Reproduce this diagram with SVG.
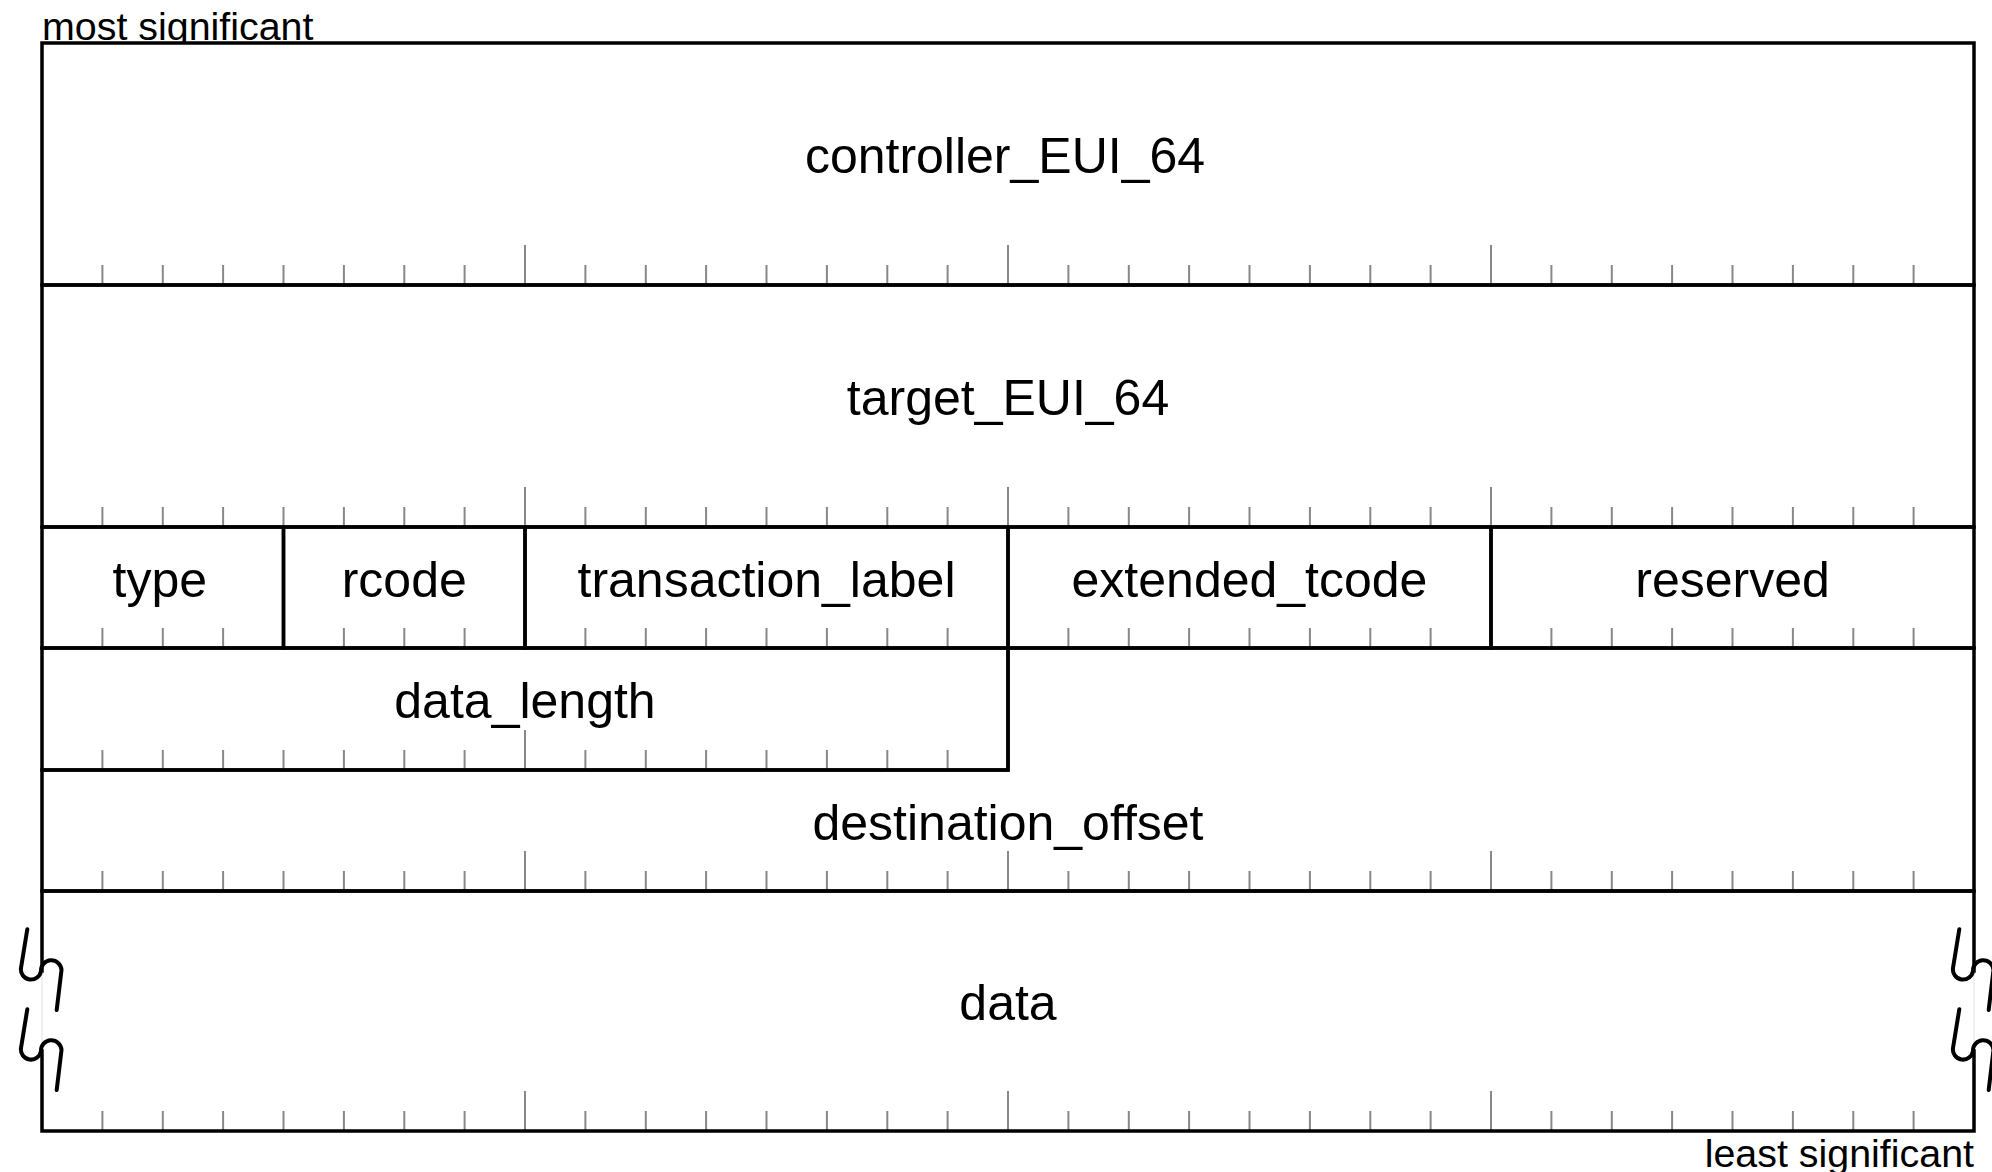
<svg xmlns="http://www.w3.org/2000/svg" xmlns:xlink="http://www.w3.org/1999/xlink" width="1992" height="1172" viewBox="0 0 1992 1172">
  <style>
    .edge { fill: none; stroke: #000; stroke-width: 3.5; stroke-linejoin: miter; stroke-linecap: square; }
    .tick { fill: none; stroke: #888; stroke-width: 2; }
    .brk { fill: none; stroke: #000; stroke-width: 4; stroke-linecap: round; stroke-linejoin: round; }
    .ghost { fill: none; stroke: #e2e2e2; stroke-width: 1; }
    .lbl { font-family: "Liberation Sans", Arial, sans-serif; font-size: 50px; fill: #000; text-anchor: middle; }
    .note { font-family: "Liberation Sans", Arial, sans-serif; font-size: 39.4px; fill: #000; }
  </style>
  <defs>
    <!-- bit ruler across all 32 bits; ticks rise from y=0, byte boundaries longer -->
    <path id="ruler-full" class="tick" d="M102.4,0v-20 M162.8,0v-20 M223.1,0v-20 M283.5,0v-20 M343.9,0v-20 M404.3,0v-20 M464.6,0v-20 M525,0v-40 M585.4,0v-20 M645.8,0v-20 M706.1,0v-20 M766.5,0v-20 M826.9,0v-20 M887.3,0v-20 M947.6,0v-20 M1008,0v-40 M1068.4,0v-20 M1128.8,0v-20 M1189.1,0v-20 M1249.5,0v-20 M1309.9,0v-20 M1370.3,0v-20 M1430.6,0v-20 M1491,0v-40 M1551.4,0v-20 M1611.8,0v-20 M1672.1,0v-20 M1732.5,0v-20 M1792.9,0v-20 M1853.3,0v-20 M1913.6,0v-20"/>
    <!-- ruler for the split quadlet: no ticks where field edges fall -->
    <path id="ruler-split" class="tick" d="M102.4,0v-20 M162.8,0v-20 M223.1,0v-20 M343.9,0v-20 M404.3,0v-20 M464.6,0v-20 M585.4,0v-20 M645.8,0v-20 M706.1,0v-20 M766.5,0v-20 M826.9,0v-20 M887.3,0v-20 M947.6,0v-20 M1068.4,0v-20 M1128.8,0v-20 M1189.1,0v-20 M1249.5,0v-20 M1309.9,0v-20 M1370.3,0v-20 M1430.6,0v-20 M1551.4,0v-20 M1611.8,0v-20 M1672.1,0v-20 M1732.5,0v-20 M1792.9,0v-20 M1853.3,0v-20 M1913.6,0v-20"/>
    <!-- ruler for the upper 16 bits only -->
    <path id="ruler-half" class="tick" d="M102.4,0v-20 M162.8,0v-20 M223.1,0v-20 M283.5,0v-20 M343.9,0v-20 M404.3,0v-20 M464.6,0v-20 M525,0v-40 M585.4,0v-20 M645.8,0v-20 M706.1,0v-20 M766.5,0v-20 M826.9,0v-20 M887.3,0v-20 M947.6,0v-20"/>
    <!-- pair of break marks, drawn around x=0 -->
    <path id="break-pair" class="brk" d="M-14.7,929.3 L-21,968 A10,10 0 0 0 -1,971 A10,10 0 0 1 19.5,970 L14.7,1010 M-14.7,1009.3 L-21,1048 A10,10 0 0 0 -1,1051 A10,10 0 0 1 19.5,1050 L14.7,1090"/>
  </defs>

  <rect x="0" y="0" width="1992" height="1172" fill="#fff"/>

  <text class="note" x="42" y="39.5">most significant</text>
  <text class="note" x="1974" y="1167" text-anchor="end">least significant</text>

  <!-- packet body -->
  <rect x="42" y="43" width="1932" height="1088" fill="#fff"/>

  <g id="controller_EUI_64">
    <use xlink:href="#ruler-full" y="285"/>
    <rect class="edge" x="42" y="43" width="1932" height="242"/>
    <text class="lbl" x="1005" y="173">controller_EUI_64</text>
  </g>

  <g id="target_EUI_64">
    <use xlink:href="#ruler-full" y="527"/>
    <rect class="edge" x="42" y="285" width="1932" height="242"/>
    <text class="lbl" x="1008" y="415">target_EUI_64</text>
  </g>

  <g id="type">
    <use xlink:href="#ruler-split" y="648"/>
    <rect class="edge" x="42" y="527" width="241.5" height="121"/>
    <text class="lbl" x="159.75" y="596.5">type</text>
  </g>

  <g id="rcode">
    <rect class="edge" x="283.5" y="527" width="241.5" height="121"/>
    <text class="lbl" x="404.25" y="596.5">rcode</text>
  </g>

  <g id="transaction_label">
    <rect class="edge" x="525" y="527" width="483" height="121"/>
    <text class="lbl" x="766.5" y="596.5">transaction_label</text>
  </g>

  <g id="extended_tcode">
    <rect class="edge" x="1008" y="527" width="483" height="121"/>
    <text class="lbl" x="1249.5" y="596.5">extended_tcode</text>
  </g>

  <g id="reserved">
    <rect class="edge" x="1491" y="527" width="483" height="121"/>
    <text class="lbl" x="1732.5" y="596.5">reserved</text>
  </g>

  <g id="data_length">
    <use xlink:href="#ruler-half" y="770"/>
    <rect class="edge" x="42" y="648" width="966" height="122"/>
    <text class="lbl" x="525" y="718">data_length</text>
  </g>

  <g id="destination_offset">
    <use xlink:href="#ruler-full" y="891"/>
    <path class="edge" d="M1008,648 H1974 V891 H42 V770 H1008 Z"/>
    <text class="lbl" x="1008" y="839.5">destination_offset</text>
  </g>

  <g id="data">
    <use xlink:href="#ruler-full" y="1131"/>
    <path class="edge" d="M42,891 H1974 M42,1131 H1974 M42,891 V971 M42,1051 V1131 M1974,891 V971 M1974,1051 V1131"/>
    <path class="ghost" d="M42,971 V1051 M1974,971 V1051"/>
    <use xlink:href="#break-pair" x="42"/>
    <use xlink:href="#break-pair" x="1974"/>
    <text class="lbl" x="1008" y="1020">data</text>
  </g>

  <!-- no connectors in a packet layout -->
  <g id="connectors"/>
</svg>
